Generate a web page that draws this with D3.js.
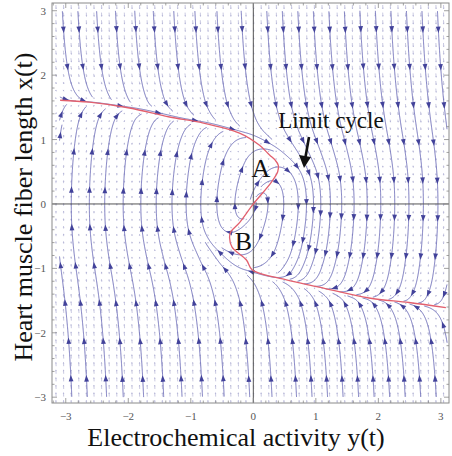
<!DOCTYPE html>
<html><head><meta charset="utf-8">
<script src="https://cdn.jsdelivr.net/npm/d3@7"></script>
<style>html,body{margin:0;padding:0;background:#fff;}</style>
</head><body>
<svg id="chart" width="452" height="456"></svg>
<script>
// ---- data ----
const tickValues = [-3, -2, -1, 0, 1, 2, 3];
// red curve (slow manifold), horizontal coordinate y(t) and vertical x(t)
const curveY = [-3.09,-2.62,-1.98,-1.34,-0.86,-0.22,0.10,0.26,0.35,0.40,0.39,0.29,0.00,-0.22,-0.36,-0.38,-0.34,-0.11,-0.02,0.53,1.05,1.85,2.49,3.08];
const curveX = [1.61,1.58,1.49,1.35,1.27,1.10,0.91,0.76,0.68,0.60,0.50,0.34,0.00,-0.29,-0.43,-0.52,-0.67,-0.87,-1.02,-1.18,-1.29,-1.46,-1.53,-1.61];
const epsilon = 0.4;          // fast/slow time-scale ratio of the model
const labels = {A: [0.12, 0.42], B: [-0.16, -0.72]};

// ---- layout ----
const svg = d3.select("#chart");
const sx = d3.scaleLinear().domain([-3.22, 3.13]).range([52, 449]);
const sy = d3.scaleLinear().domain([-3.09, 3.12]).range([403, 3]);
const kx = (sx(1) - sx(0)), ky = (sy(0) - sy(1));

// manifold as function of x (vertical variable)
const asc = d3.range(curveX.length).sort((a, b) => curveX[a] - curveX[b]);
const fInterp = d3.scaleLinear().domain(asc.map(i => curveX[i])).range(asc.map(i => curveY[i]));
const xmin = d3.min(curveX), xmax = d3.max(curveX);
const g = x => x - x * x * x;
function f(x) {
  if (x > xmax) return fInterp(xmax) + g(x) - g(xmax);
  if (x < xmin) return fInterp(xmin) + g(x) - g(xmin);
  return fInterp(x);
}
// vector field: dy/dt = x ; dx/dt = (f(x) - y)/eps
function vel(u, v) { return [v, (f(v) - u) / epsilon]; }
function pvel(px, py) {
  const u = sx.invert(px), v = sy.invert(py);
  const d = vel(u, v);
  return [d[0] * kx, -d[1] * ky];
}

svg.append("clipPath").attr("id", "clip").append("rect")
  .attr("x", 52).attr("y", 3).attr("width", 397).attr("height", 400);

// ---- background vector field ----
const bg = svg.append("g").attr("clip-path", "url(#clip)");
const gs = 7.6;
for (let px = 56; px < 449; px += gs) {
  for (let py = 7; py < 403; py += gs) {
    const d = pvel(px, py);
    const m = Math.hypot(d[0], d[1]);
    if (m < 1e-9) continue;
    const um = Math.hypot(...vel(sx.invert(px), sy.invert(py)));
    const L = 0.8 + 3.2 * Math.min(1, um / 14);
    const dx = d[0] / m, dy = d[1] / m;
    const x0 = px - dx * L / 2, y0 = py - dy * L / 2, x1 = px + dx * L / 2, y1 = py + dy * L / 2;
    bg.append("line").attr("x1", x0).attr("y1", y0).attr("x2", x1).attr("y2", y1)
      .attr("stroke", "#c3c3de").attr("stroke-width", 0.9);
    const hx = 1.3, hw = 0.9;
    bg.append("path").attr("d", `M${x1},${y1}L${x1 - dx * hx - dy * hw},${y1 - dy * hx + dx * hw}L${x1 - dx * hx + dy * hw},${y1 - dy * hx - dx * hw}Z`)
      .attr("fill", "#b4b4d6");
  }
}

// ---- streamlines (evenly spaced) ----
const B = {x0: sx(-3.1), x1: sx(3.1), y0: sy(3.0), y1: sy(-3.0)};
const dsep = 15.5, dtest = 4.5;
const cell = dsep;
const grid = new Map();
function key(i, j) { return i + "," + j; }
function addPt(p) {
  const k = key(Math.floor(p.x / cell), Math.floor(p.y / cell));
  if (!grid.has(k)) grid.set(k, []);
  grid.get(k).push(p);
}
function near(x, y, d, id, s) {
  const i = Math.floor(x / cell), j = Math.floor(y / cell);
  const r = Math.ceil(d / cell);
  for (let a = i - r; a <= i + r; a++) for (let b = j - r; b <= j + r; b++) {
    const arr = grid.get(key(a, b)); if (!arr) continue;
    for (const p of arr) {
      if (p.id === id && Math.abs(p.s - s) < 3 * dsep) continue;
      if ((p.x - x) ** 2 + (p.y - y) ** 2 < d * d) return true;
    }
  }
  return false;
}
function dir(x, y) {
  const d = pvel(x, y); const m = Math.hypot(d[0], d[1]);
  if (m < 1e-6) return null; return [d[0] / m, d[1] / m];
}
function inB(x, y) { return x >= B.x0 && x <= B.x1 && y >= B.y0 && y <= B.y1; }
function trace(x, y, sgn, id) {
  const pts = []; let s = 0; const h = 0.8 * sgn;
  for (let n = 0; n < 2500; n++) {
    const k1 = dir(x, y); if (!k1) break;
    const k2 = dir(x + h * k1[0] / 2, y + h * k1[1] / 2); if (!k2) break;
    const k3 = dir(x + h * k2[0] / 2, y + h * k2[1] / 2); if (!k3) break;
    const k4 = dir(x + h * k3[0], y + h * k3[1]); if (!k4) break;
    const nx = x + h * (k1[0] + 2 * k2[0] + 2 * k3[0] + k4[0]) / 6;
    const ny = y + h * (k1[1] + 2 * k2[1] + 2 * k3[1] + k4[1]) / 6;
    if (!inB(nx, ny)) break;
    s += h;
    if (near(nx, ny, dtest, id, s)) break;
    x = nx; y = ny;
    const p = {x, y, id, s};
    pts.push(p); addPt(p);
  }
  return pts;
}
const lines = [];
let nid = 0;
function makeLine(x, y) {
  if (!inB(x, y) || near(x, y, dsep * 0.95, -1, 0)) return null;
  const id = nid++;
  const p0 = {x, y, id, s: 0}; addPt(p0);
  const fw = trace(x, y, 1, id);
  const bw = trace(x, y, -1, id);
  const pts = bw.reverse().concat([p0], fw);
  if (pts.length < 12) return null;
  lines.push(pts); return pts;
}
const seedsGrid = [];
for (let j = 0; j < 30; j++) for (let i = 0; i < 30; i++) {
  seedsGrid.push([B.x0 + 3 + i * (B.x1 - B.x0 - 6) / 29, B.y0 + 3 + j * (B.y1 - B.y0 - 6) / 29]);
}
const queue = [];
let gi = 0;
while (true) {
  let ln = null;
  if (queue.length) {
    const L = queue.shift();
    for (let k = 0; k < L.length; k += 4) {
      const a = L[Math.max(0, k - 1)], b = L[Math.min(L.length - 1, k + 1)];
      let tx = b.x - a.x, ty = b.y - a.y; const m = Math.hypot(tx, ty) || 1;
      tx /= m; ty /= m;
      for (const sg of [1, -1]) {
        const nl = makeLine(L[k].x - ty * dsep * sg, L[k].y + tx * dsep * sg);
        if (nl) queue.push(nl);
      }
    }
    continue;
  }
  while (gi < seedsGrid.length && !ln) { ln = makeLine(seedsGrid[gi][0], seedsGrid[gi][1]); gi++; }
  if (!ln) break;
  queue.push(ln);
}

const sg = svg.append("g").attr("clip-path", "url(#clip)");
const lineGen = d3.line().x(d => d.x).y(d => d.y);
sg.selectAll("path.stream").data(lines).join("path").attr("class", "stream")
  .attr("d", lineGen).attr("fill", "none").attr("stroke", "#7474bc").attr("stroke-width", 1);
// arrowheads
const arrows = [];
for (const L of lines) {
  const acc = [0];
  for (let i = 1; i < L.length; i++) acc.push(acc[i - 1] + Math.hypot(L[i].x - L[i - 1].x, L[i].y - L[i - 1].y));
  const tot = acc[acc.length - 1];
  const spots = [];
  if (tot < 40) spots.push(tot / 2);
  else for (let s = 20; s < tot - 4; s += 38) spots.push(s);
  for (const s of spots) {
    let i = d3.bisectLeft(acc, s); i = Math.min(Math.max(i, 2), L.length - 1);
    const a = L[Math.max(0, i - 4)], b = L[i];
    let tx = b.x - a.x, ty = b.y - a.y; const m = Math.hypot(tx, ty) || 1;
    arrows.push({x: b.x, y: b.y, tx: tx / m, ty: ty / m});
  }
}
sg.selectAll("path.arr").data(arrows).join("path").attr("class", "arr")
  .attr("d", d => {
    const hl = 5.5, hw = 2.4;
    const bx = d.x - d.tx * hl, by = d.y - d.ty * hl;
    return `M${d.x + d.tx * 1},${d.y + d.ty * 1}L${bx - d.ty * hw},${by + d.tx * hw}L${bx + d.ty * hw},${by - d.tx * hw}Z`;
  }).attr("fill", "#42429a");

// ---- axes through origin ----
svg.append("line").attr("x1", 52).attr("x2", 449).attr("y1", sy(0)).attr("y2", sy(0)).attr("stroke", "#555").attr("stroke-width", 1);
svg.append("line").attr("y1", 3).attr("y2", 403).attr("x1", sx(0)).attr("x2", sx(0)).attr("stroke", "#555").attr("stroke-width", 1);

// ---- red manifold ----
const pts = curveY.map((y, i) => [sx(y), sy(curveX[i])]);
svg.append("path").attr("d", d3.line().curve(d3.curveCatmullRom.alpha(0.5))(pts))
  .attr("fill", "none").attr("stroke", "#e2606e").attr("stroke-width", 1.3);

// ---- frame and ticks ----
svg.append("rect").attr("x", 52).attr("y", 3).attr("width", 397).attr("height", 400)
  .attr("fill", "none").attr("stroke", "#8a8a8a").attr("stroke-width", 1);
const minor = d3.range(-3.2, 3.21, 0.2).map(v => Math.round(v * 10) / 10);
const tk = svg.append("g").attr("stroke", "#8a8a8a").attr("stroke-width", 0.8);
for (const v of minor) {
  const major = Math.abs(v - Math.round(v)) < 1e-6;
  const len = major ? 5 : 2.5;
  if (v >= -3.22 && v <= 3.13) {
    tk.append("line").attr("x1", sx(v)).attr("x2", sx(v)).attr("y1", 403).attr("y2", 403 - len);
    tk.append("line").attr("x1", sx(v)).attr("x2", sx(v)).attr("y1", 3).attr("y2", 3 + len);
  }
  if (v >= -3.09 && v <= 3.12) {
    tk.append("line").attr("y1", sy(v)).attr("y2", sy(v)).attr("x1", 52).attr("x2", 52 + len);
    tk.append("line").attr("y1", sy(v)).attr("y2", sy(v)).attr("x1", 449).attr("x2", 449 - len);
  }
}
const fmt = v => v < 0 ? "\u2212" + Math.abs(v) : String(v);
svg.append("g").selectAll("text").data(tickValues).join("text")
  .attr("x", d => sx(d)).attr("y", 420).attr("text-anchor", "middle")
  .attr("font-family", "Liberation Serif").attr("font-size", 11).attr("fill", "#555").text(fmt);
svg.append("g").selectAll("text").data(tickValues).join("text")
  .attr("x", 46).attr("y", d => sy(d) + 4).attr("text-anchor", "end")
  .attr("font-family", "Liberation Serif").attr("font-size", 11).attr("fill", "#555").text(fmt);

// ---- annotations ----
svg.append("text").attr("x", sx(labels.A[0])).attr("y", sy(labels.A[1]))
  .attr("text-anchor", "middle").attr("font-family", "Liberation Serif").attr("font-size", 26).attr("fill", "#111").text("A");
svg.append("text").attr("x", sx(labels.B[0])).attr("y", sy(labels.B[1]))
  .attr("text-anchor", "middle").attr("font-family", "Liberation Serif").attr("font-size", 26).attr("fill", "#111").text("B");
svg.append("text").attr("x", 331).attr("y", 128).attr("text-anchor", "middle")
  .attr("font-family", "Liberation Serif").attr("font-size", 23).attr("fill", "#111").text("Limit cycle");
svg.append("line").attr("x1", 309).attr("y1", 137).attr("x2", 305.5).attr("y2", 157)
  .attr("stroke", "#111").attr("stroke-width", 2.6);
svg.append("path").attr("d", "M304,168L299,155L311,157Z").attr("fill", "#111");

// ---- axis titles ----
svg.append("text").attr("x", 236).attr("y", 446).attr("text-anchor", "middle")
  .attr("font-family", "Liberation Serif").attr("font-size", 26).attr("fill", "#111")
  .text("Electrochemical activity y(t)");
svg.append("text").attr("transform", "translate(32,207) rotate(-90)").attr("text-anchor", "middle")
  .attr("font-family", "Liberation Serif").attr("font-size", 26).attr("fill", "#111")
  .text("Heart muscle fiber length x(t)");
</script>
</body></html>
